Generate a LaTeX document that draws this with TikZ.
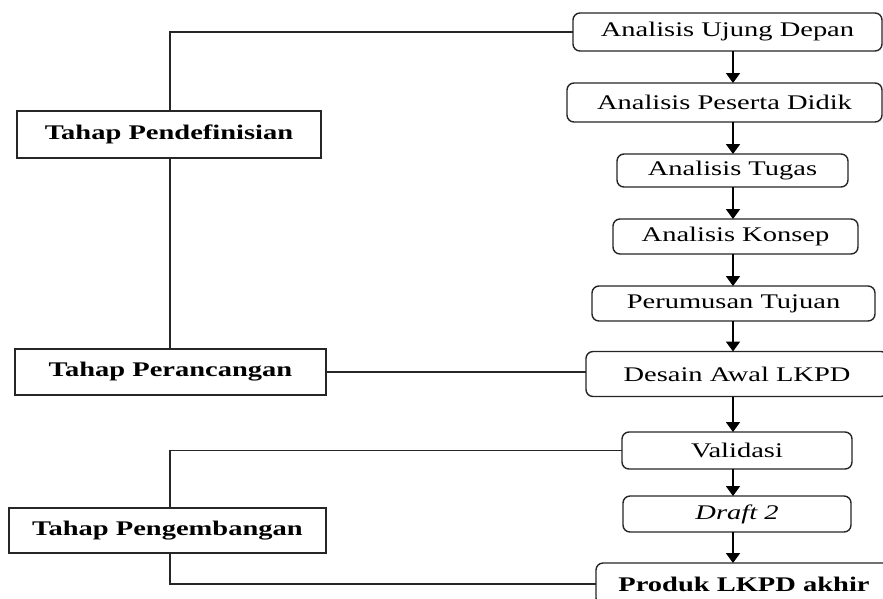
\documentclass[tikz,border=0pt]{standalone}
\usepackage{fontspec}
\setmainfont{Liberation Serif}[FakeStretch=1.37]
\usetikzlibrary{arrows.meta}
\begin{document}
\begin{tikzpicture}[x=1pt,y=-1pt,
  rbox/.style={draw=black!85, line width=1.4pt, rounded corners=7pt, inner sep=0pt, outer sep=0pt, font=\fontsize{20.8}{24}\selectfont, text=black},
  lbox/.style={draw=black!85, line width=1.4pt, inner sep=0pt, outer sep=0pt, font=\fontsize{20.8}{24}\selectfont\bfseries, text=black},
  conn/.style={draw=black!85, line width=1.2pt},
  arr/.style={draw=black, line width=1.8pt, -{Triangle[length=10pt,width=14pt]}}]
\useasboundingbox (0,0) rectangle (883,598);
\fill[white] (0,0) rectangle (883,598);
% right column
\node[rbox, minimum width=309pt, minimum height=38pt] (u) at (727.5,32) {Analisis Ujung Depan};
\node[rbox, minimum width=315pt, minimum height=39pt] (p) at (724.5,102.5) {Analisis Peserta Didik};
\node[rbox, minimum width=231pt, minimum height=33pt] (t) at (732.5,170.5) {Analisis Tugas};
\node[rbox, minimum width=245pt, minimum height=35pt] (k) at (735.5,236.5) {Analisis Konsep};
\node[rbox, minimum width=283pt, minimum height=35pt] (r) at (733.5,303.5) {Perumusan Tujuan};
\node[rbox, minimum width=302pt, minimum height=45pt] (d) at (737,374) {Desain Awal LKPD};
\node[rbox, minimum width=230pt, minimum height=37pt] (v) at (737,450.5) {Validasi};
\node[rbox, minimum width=228pt, minimum height=36pt] (f) at (737,514) {\itshape Draft 2};
\node[rbox, minimum width=296pt, minimum height=42pt, font=\fontsize{20.8}{24}\selectfont\bfseries] (pr) at (744,584) {Produk LKPD akhir};
% left column
\node[lbox, minimum width=304pt, minimum height=47pt] (A) at (169,134.5) {Tahap Pendefinisian};
\node[lbox, minimum width=311pt, minimum height=46pt] (B) at (170.5,372) {Tahap Perancangan};
\node[lbox, minimum width=317pt, minimum height=45pt] (C) at (167.5,530.5) {Tahap Pengembangan};
% arrows
\coordinate (ax) at (733,0);
\draw[arr] (u.south -| ax) -- (p.north -| ax);
\draw[arr] (p.south -| ax) -- (t.north -| ax);
\draw[arr] (t.south -| ax) -- (k.north -| ax);
\draw[arr] (k.south -| ax) -- (r.north -| ax);
\draw[arr] (r.south -| ax) -- (d.north -| ax);
\draw[arr] (d.south -| ax) -- (v.north -| ax);
\draw[arr] (v.south -| ax) -- (f.north -| ax);
\draw[arr] (f.south -| ax) -- (pr.north -| ax);
% connectors
\coordinate (lx) at (170,0);
\draw[conn] (u.west) -| (A.north -| lx);
\draw[conn] (A.south -| lx) -- (B.north -| lx);
\draw[conn] (B.east) -- (B.east -| d.west);
\draw[conn] (v.west) -| (C.north -| lx);
\draw[conn] (C.south -| lx) |- (pr.west);
\end{tikzpicture}
\end{document}
